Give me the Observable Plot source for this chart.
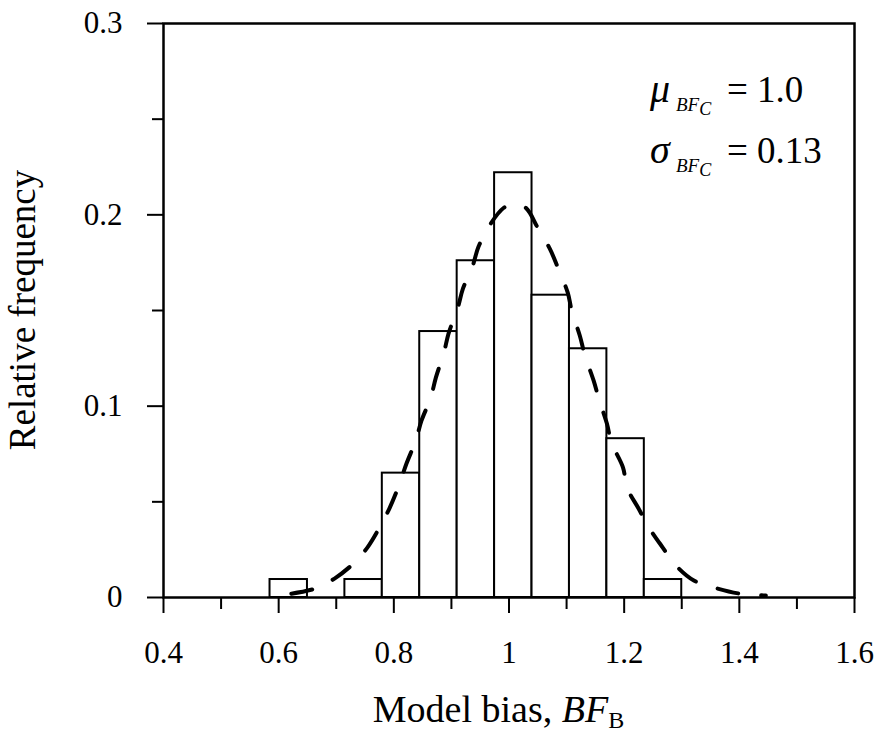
<!DOCTYPE html>
<html>
<head>
<meta charset="utf-8">
<script src="https://cdn.jsdelivr.net/npm/d3@7"></script>
<script src="https://cdn.jsdelivr.net/npm/@observablehq/plot@0.6"></script>
<style>
  html, body { margin: 0; padding: 0; background: white; }
  #chart svg text, #chart svg tspan { font-family: 'Liberation Serif', 'Times New Roman', serif !important; }
</style>
</head>
<body>
<div id="chart"></div>
<script>
// Histogram bins (edges) and relative frequencies
const binStart = [0.585, 0.715, 0.78, 0.845, 0.91, 0.975, 1.04, 1.105, 1.17, 1.235];
const binEnd   = [0.65, 0.78, 0.845, 0.91, 0.975, 1.04, 1.105, 1.17, 1.235, 1.30];
const relFreq  = [0.0094, 0.0094, 0.065, 0.139, 0.176, 0.222, 0.158, 0.130, 0.083, 0.0094];

// Fitted normal curve
const curveX = [0.622, 0.664, 0.697, 0.730, 0.754, 0.777, 0.793, 0.810, 0.822, 0.838, 0.848, 0.864, 0.873, 0.887, 0.895, 0.911, 0.920, 0.937, 0.947, 0.968, 0.991, 1.008, 1.029, 1.050, 1.071, 1.085, 1.102, 1.109, 1.123, 1.132, 1.147, 1.156, 1.170, 1.178, 1.198, 1.205, 1.225, 1.243, 1.267, 1.290, 1.321, 1.356, 1.399, 1.446];
const curveY = [0.0020, 0.0047, 0.0099, 0.0178, 0.0261, 0.0376, 0.0470, 0.0595, 0.0700, 0.0820, 0.0924, 0.1044, 0.1149, 0.1280, 0.1379, 0.1514, 0.1614, 0.1734, 0.1833, 0.1953, 0.2037, 0.2057, 0.2037, 0.1932, 0.1822, 0.1723, 0.1593, 0.1499, 0.1368, 0.1264, 0.1133, 0.1039, 0.0909, 0.0809, 0.0679, 0.0574, 0.0465, 0.0366, 0.0261, 0.0167, 0.0089, 0.0052, 0.0021, 0.0010];

// Ticks
const xTicks = [0.4, 0.6, 0.8, 1, 1.2, 1.4, 1.6];
const xMinor = [0.5, 0.7, 0.9, 1.1, 1.3, 1.5];
const yTicks = [0, 0.1, 0.2, 0.3];
const yMinor = [0.05, 0.15, 0.25];

const xTitle = "Model bias, ";
const yTitle = "Relative frequency";

const bars = binStart.map((s, i) => ({x1: s, x2: binEnd[i], y: relFreq[i]}));
const curve = curveX.map((x, i) => ({x, y: curveY[i]}));

const FONT = "'Liberation Serif', 'Times New Roman', serif";

const plot = Plot.plot({
  width: 880,
  height: 745,
  marginLeft: 163,
  marginRight: 26,
  marginTop: 23,
  marginBottom: 148,
  x: {domain: [0.4, 1.6], label: null},
  y: {domain: [0, 0.3], label: null},
  style: {fontFamily: FONT, fontSize: "31px", color: "black", background: "white"},
  marks: [
    Plot.rectY(bars, {x1: "x1", x2: "x2", y: "y", fill: "white", stroke: "black", strokeWidth: 2}),
    Plot.line(curve, {x: "x", y: "y", stroke: "black", strokeWidth: 4, strokeDasharray: "21,23", strokeLinecap: "round", curve: "catmull-rom"}),
    Plot.axisX(xTicks, {tickSize: 16, tickPadding: 27, strokeWidth: 2, tickFormat: d => String(d), fontSize: 31, fontFamily: FONT, label: null}),
    Plot.axisX(xMinor, {tickSize: 12, strokeWidth: 2, tickFormat: () => "", label: null}),
    Plot.axisY(yTicks, {tickSize: 16, tickPadding: 25, strokeWidth: 2, tickFormat: d => String(d), fontSize: 31, fontFamily: FONT, label: null}),
    Plot.axisY(yMinor, {tickSize: 11, strokeWidth: 2, tickFormat: () => "", label: null}),
    Plot.frame({stroke: "black", strokeWidth: 2.5})
  ]
});

document.getElementById("chart").appendChild(plot);

const svg = d3.select(plot);
const xs = plot.scale("x");
const ys = plot.scale("y");

// x-axis title with italic BF and subscript B
const xt = svg.append("text")
  .attr("x", (xs.apply(0.4) + xs.apply(1.6)) / 2 - 10)
  .attr("y", 722)
  .attr("text-anchor", "middle")
  .attr("font-family", FONT)
  .attr("font-size", 38)
  .attr("fill", "black");
xt.append("tspan").text(xTitle);
xt.append("tspan").attr("font-style", "italic").text("BF");
xt.append("tspan").attr("font-size", 24).attr("dy", 6).text("B");

// y-axis title
svg.append("text")
  .attr("transform", `translate(35, ${(ys.apply(0) + ys.apply(0.3)) / 2}) rotate(-90)`)
  .attr("text-anchor", "middle")
  .attr("font-family", FONT)
  .attr("font-size", 37)
  .attr("fill", "black")
  .text(yTitle);

// Annotation: mu and sigma
function stat(sym, value, baseline) {
  const g = svg.append("g").attr("fill", "black");
  g.append("text").attr("x", 650).attr("y", baseline).attr("font-family", FONT).attr("font-size", 40).attr("font-style", "italic").attr("text-anchor", "start").text(sym);
  const sub = g.append("text").attr("x", 676).attr("y", baseline + 9).attr("font-family", FONT).attr("font-size", 19).attr("font-style", "italic").attr("text-anchor", "start");
  sub.append("tspan").text("BF");
  sub.append("tspan").attr("font-size", 18).attr("dy", 4).text("C");
  g.append("text").attr("x", 727).attr("y", baseline).attr("font-family", FONT).attr("font-size", 37).attr("text-anchor", "start").text("=");
  g.append("text").attr("x", 757).attr("y", baseline).attr("font-family", FONT).attr("font-size", 37).attr("text-anchor", "start").text(value);
}
stat("μ", "1.0", 102);
stat("σ", "0.13", 163);
</script>
</body>
</html>
